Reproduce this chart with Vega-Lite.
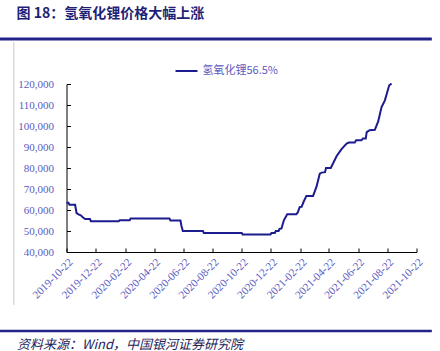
{
  "$schema": "https://vega.github.io/schema/vega-lite/v6.json",
  "width": 350,
  "height": 168,
  "autosize": {"type": "none"},
  "padding": {"left": 66.5, "top": 84, "right": 23.5, "bottom": 99},
  "background": "white",
  "config": {
    "view": {"stroke": null},
    "font": "Liberation Serif",
    "axis": {"labelOverlap": false, "labelFlush": false}
  },
  "title": {
    "text": "图 18：氢氧化锂价格大幅上涨",
    "anchor": "start",
    "frame": "group",
    "dx": -50,
    "offset": 17,
    "font": "Noto Sans CJK SC",
    "fontSize": 14,
    "fontWeight": "bold",
    "color": "#1f1f78"
  },
  "datasets": {
    "price": [
      {"date": "2019-10-22", "value": 63500, "series": "氢氧化锂56.5%"},
      {"date": "2019-10-26", "value": 63500, "series": "氢氧化锂56.5%"},
      {"date": "2019-10-28", "value": 62500, "series": "氢氧化锂56.5%"},
      {"date": "2019-11-09", "value": 62500, "series": "氢氧化锂56.5%"},
      {"date": "2019-11-12", "value": 58500, "series": "氢氧化锂56.5%"},
      {"date": "2019-11-17", "value": 57800, "series": "氢氧化锂56.5%"},
      {"date": "2019-11-21", "value": 57500, "series": "氢氧化锂56.5%"},
      {"date": "2019-11-25", "value": 56500, "series": "氢氧化锂56.5%"},
      {"date": "2019-11-30", "value": 55700, "series": "氢氧化锂56.5%"},
      {"date": "2019-12-10", "value": 55700, "series": "氢氧化锂56.5%"},
      {"date": "2019-12-12", "value": 54600, "series": "氢氧化锂56.5%"},
      {"date": "2020-02-08", "value": 54600, "series": "氢氧化锂56.5%"},
      {"date": "2020-02-10", "value": 55100, "series": "氢氧化锂56.5%"},
      {"date": "2020-03-02", "value": 55100, "series": "氢氧化锂56.5%"},
      {"date": "2020-03-04", "value": 56000, "series": "氢氧化锂56.5%"},
      {"date": "2020-05-24", "value": 56000, "series": "氢氧化锂56.5%"},
      {"date": "2020-05-26", "value": 55000, "series": "氢氧化锂56.5%"},
      {"date": "2020-06-16", "value": 55000, "series": "氢氧化锂56.5%"},
      {"date": "2020-06-18", "value": 52500, "series": "氢氧化锂56.5%"},
      {"date": "2020-06-21", "value": 50000, "series": "氢氧化锂56.5%"},
      {"date": "2020-08-02", "value": 50000, "series": "氢氧化锂56.5%"},
      {"date": "2020-08-04", "value": 49000, "series": "氢氧化锂56.5%"},
      {"date": "2020-10-22", "value": 49000, "series": "氢氧化锂56.5%"},
      {"date": "2020-10-24", "value": 48300, "series": "氢氧化锂56.5%"},
      {"date": "2020-12-21", "value": 48300, "series": "氢氧化锂56.5%"},
      {"date": "2020-12-23", "value": 49000, "series": "氢氧化锂56.5%"},
      {"date": "2020-12-30", "value": 49000, "series": "氢氧化锂56.5%"},
      {"date": "2021-01-01", "value": 50000, "series": "氢氧化锂56.5%"},
      {"date": "2021-01-07", "value": 50000, "series": "氢氧化锂56.5%"},
      {"date": "2021-01-09", "value": 51000, "series": "氢氧化锂56.5%"},
      {"date": "2021-01-13", "value": 51200, "series": "氢氧化锂56.5%"},
      {"date": "2021-01-18", "value": 55100, "series": "氢氧化锂56.5%"},
      {"date": "2021-01-25", "value": 58000, "series": "氢氧化锂56.5%"},
      {"date": "2021-02-13", "value": 58000, "series": "氢氧化锂56.5%"},
      {"date": "2021-02-16", "value": 58800, "series": "氢氧化锂56.5%"},
      {"date": "2021-02-20", "value": 61400, "series": "氢氧化锂56.5%"},
      {"date": "2021-02-24", "value": 61500, "series": "氢氧化锂56.5%"},
      {"date": "2021-02-28", "value": 63800, "series": "氢氧化锂56.5%"},
      {"date": "2021-03-06", "value": 66700, "series": "氢氧化锂56.5%"},
      {"date": "2021-03-20", "value": 66700, "series": "氢氧化锂56.5%"},
      {"date": "2021-03-27", "value": 71000, "series": "氢氧化锂56.5%"},
      {"date": "2021-04-03", "value": 77300, "series": "氢氧化锂56.5%"},
      {"date": "2021-04-07", "value": 77800, "series": "氢氧化锂56.5%"},
      {"date": "2021-04-14", "value": 78000, "series": "氢氧化锂56.5%"},
      {"date": "2021-04-16", "value": 80000, "series": "氢氧化锂56.5%"},
      {"date": "2021-04-26", "value": 80000, "series": "氢氧化锂56.5%"},
      {"date": "2021-05-08", "value": 85600, "series": "氢氧化锂56.5%"},
      {"date": "2021-05-18", "value": 88900, "series": "氢氧化锂56.5%"},
      {"date": "2021-05-29", "value": 91600, "series": "氢氧化锂56.5%"},
      {"date": "2021-06-03", "value": 92100, "series": "氢氧化锂56.5%"},
      {"date": "2021-06-15", "value": 92100, "series": "氢氧化锂56.5%"},
      {"date": "2021-06-18", "value": 93200, "series": "氢氧化锂56.5%"},
      {"date": "2021-06-29", "value": 93200, "series": "氢氧化锂56.5%"},
      {"date": "2021-07-02", "value": 94000, "series": "氢氧化锂56.5%"},
      {"date": "2021-07-08", "value": 94000, "series": "氢氧化锂56.5%"},
      {"date": "2021-07-10", "value": 97100, "series": "氢氧化锂56.5%"},
      {"date": "2021-07-16", "value": 98000, "series": "氢氧化锂56.5%"},
      {"date": "2021-07-27", "value": 98200, "series": "氢氧化锂56.5%"},
      {"date": "2021-08-03", "value": 102200, "series": "氢氧化锂56.5%"},
      {"date": "2021-08-10", "value": 109000, "series": "氢氧化锂56.5%"},
      {"date": "2021-08-17", "value": 112200, "series": "氢氧化锂56.5%"},
      {"date": "2021-08-22", "value": 116200, "series": "氢氧化锂56.5%"},
      {"date": "2021-08-26", "value": 119400, "series": "氢氧化锂56.5%"},
      {"date": "2021-08-31", "value": 120200, "series": "氢氧化锂56.5%"}
    ]
  },
  "layer": [
    {
      "data": {"name": "price"},
      "mark": {"type": "line", "strokeWidth": 2, "interpolate": "linear"},
      "encoding": {
        "x": {
          "field": "date", "type": "temporal",
          "scale": {"type": "utc", "domain": [{"year": 2019, "month": 10, "date": 22, "utc": true}, {"year": 2021, "month": 10, "date": 22, "utc": true}], "nice": false},
          "axis": {
            "values": [
              {"year": 2019, "month": 10, "date": 22, "utc": true},
              {"year": 2019, "month": 12, "date": 22, "utc": true},
              {"year": 2020, "month": 2, "date": 22, "utc": true},
              {"year": 2020, "month": 4, "date": 22, "utc": true},
              {"year": 2020, "month": 6, "date": 22, "utc": true},
              {"year": 2020, "month": 8, "date": 22, "utc": true},
              {"year": 2020, "month": 10, "date": 22, "utc": true},
              {"year": 2020, "month": 12, "date": 22, "utc": true},
              {"year": 2021, "month": 2, "date": 22, "utc": true},
              {"year": 2021, "month": 4, "date": 22, "utc": true},
              {"year": 2021, "month": 6, "date": 22, "utc": true},
              {"year": 2021, "month": 8, "date": 22, "utc": true},
              {"year": 2021, "month": 10, "date": 22, "utc": true}
            ],
            "tickCount": 13,
            "format": "%Y-%m-%d",
            "labelAngle": -45,
            "labelFont": "Liberation Serif",
            "labelFontSize": 11,
            "labelColor": "#5b5bc0",
            "labelPadding": 8,
            "labelOverlap": false,
            "labelFlush": false,
            "grid": false,
            "domainColor": "#000000",
            "domainWidth": 1,
            "tickColor": "#000000",
            "tickSize": -4,
            "title": "资料来源：Wind，中国银河证券研究院",
            "titleFont": "Noto Sans CJK SC",
            "titleFontSize": 13,
            "titleFontWeight": "normal",
            "titleFontStyle": "italic",
            "titleColor": "#1e1e5a",
            "titleAnchor": "start",
            "titleAlign": "left",
            "titleBaseline": "alphabetic",
            "titleX": -50,
            "titleY": 96
          }
        },
        "y": {
          "field": "value", "type": "quantitative",
          "scale": {"domain": [40000, 120000], "nice": false, "zero": false},
          "axis": {
            "values": [40000, 50000, 60000, 70000, 80000, 90000, 100000, 110000, 120000],
            "tickCount": 9,
            "format": ",d",
            "labelFont": "Liberation Serif",
            "labelFontSize": 11,
            "labelColor": "#5b5bc0",
            "labelPadding": 17,
            "labelOverlap": false,
            "grid": false,
            "domainColor": "#000000",
            "tickColor": "#000000",
            "tickSize": -4,
            "title": null
          }
        },
        "color": {
          "field": "series", "type": "nominal",
          "scale": {"range": ["#1c1c8e"]},
          "legend": {
            "orient": "none",
            "legendX": 108,
            "legendY": -25,
            "title": null,
            "symbolType": "stroke",
            "symbolSize": 484,
            "symbolStrokeWidth": 2,
            "labelFont": "Noto Sans CJK SC",
            "labelFontSize": 11,
            "labelColor": "#5b5bc0",
            "labelOffset": 4
          }
        }
      }
    },
    {
      "data": {"values": [{}]},
      "mark": {"type": "rule", "clip": false, "color": "#22228a", "strokeWidth": 3},
      "encoding": {
        "x": {"datum": {"year": 2019, "month": 6, "date": 5, "utc": true}, "type": "temporal"},
        "x2": {"datum": {"year": 2021, "month": 11, "date": 23, "utc": true}},
        "y": {"datum": 141400, "type": "quantitative"}
      }
    },
    {
      "data": {"values": [{}]},
      "mark": {"type": "rule", "clip": false, "color": "#22228a", "strokeWidth": 2.5},
      "encoding": {
        "x": {"datum": {"year": 2019, "month": 6, "date": 5, "utc": true}, "type": "temporal"},
        "x2": {"datum": {"year": 2021, "month": 11, "date": 23, "utc": true}},
        "y": {"datum": 2400, "type": "quantitative"}
      }
    },
    {
      "data": {"values": [{}]},
      "mark": {"type": "rule", "clip": false, "color": "#c8c8c8", "strokeWidth": 1},
      "encoding": {
        "x": {"datum": {"year": 2019, "month": 7, "date": 4, "utc": true}, "type": "temporal"},
        "y": {"datum": 140000, "type": "quantitative"},
        "y2": {"datum": 14800}
      }
    }
  ]
}
